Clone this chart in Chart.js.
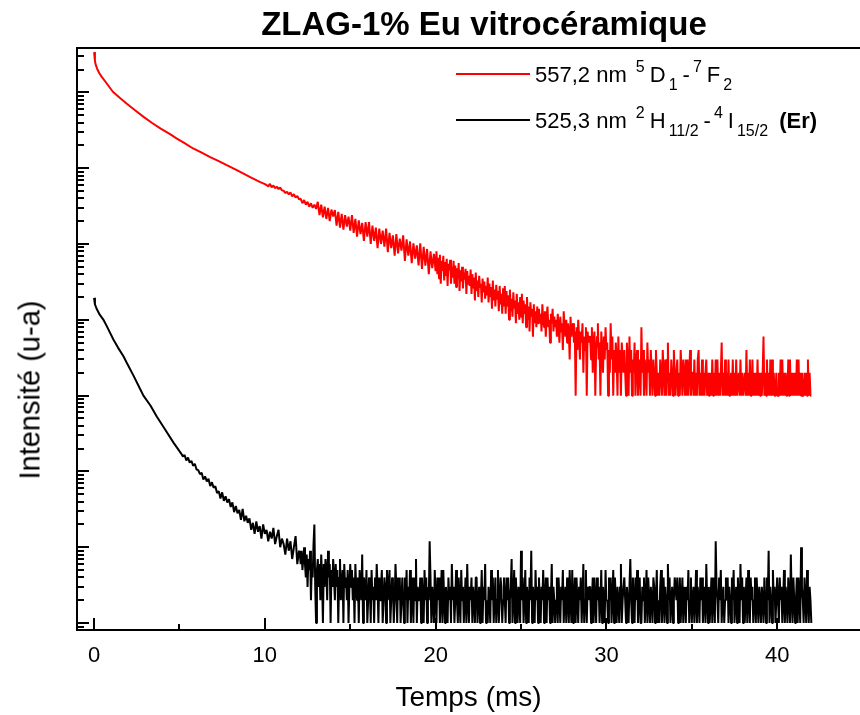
<!DOCTYPE html>
<html>
<head>
<meta charset="utf-8">
<script src="https://cdn.jsdelivr.net/npm/chart.js"></script>
<style>
  body { margin: 0; background: #fff; }
  #wrap { position: relative; width: 860px; height: 715px; overflow: hidden; font-family: "Liberation Sans", Arial, sans-serif; color: #000; }
  #chart { position: absolute; left: 0; top: 0; }
  #title { position: absolute; left: 0; width: 968px; top: 7px; text-align: center; font-weight: bold; font-size: 33px; line-height: 33px; white-space: nowrap; }
  #ytitle { position: absolute; left: 30px; top: 390px; font-size: 29px; line-height: 29px; white-space: nowrap; transform: translate(-50%, -50%) rotate(-90deg); }
  .leg { position: absolute; left: 535px; font-size: 22px; line-height: 22px; white-space: nowrap; }
  .leg sup, .leg sub { font-size: 16px; vertical-align: baseline; position: relative; margin: 0 5px 0 3px; }
  .leg sup { top: -10px; }
  .leg sub { top: 8px; }
  .swatch { position: absolute; left: 456px; width: 74px; height: 0; border-top: 2px solid #000; }
</style>
</head>
<body>
<div id="wrap">
  <canvas id="chart" width="860" height="715"></canvas>
  <div id="title">ZLAG-1% Eu vitrocéramique</div>
  <div id="ytitle">Intensité (u-a)</div>
  <div class="swatch" style="top:73px; border-color:#ff0000;"></div>
  <div class="leg" style="top:64px;">557,2 nm <sup>5</sup>D<sub>1</sub>-<sup>7</sup>F<sub>2</sub></div>
  <div class="swatch" style="top:119px;"></div>
  <div class="leg" style="top:110px;">525,3 nm <sup>2</sup>H<sub>11/2</sub>-<sup>4</sup>I<sub>15/2</sub> <b>(Er)</b></div>
</div>
<script>
// temps en ms, intensité en u-a (échelle log)
const xTicks = [0, 5, 10, 15, 20, 25, 30, 35, 40];
const midStep = 0.1;    // pas de la partie intermédiaire
const tailStep = 0.05;  // pas de la partie bruitée

// ---- 557,2 nm (rouge) ----
const redHeadTime = [0, 0.05, 0.1, 0.2, 0.3, 0.45, 0.7, 1.1, 1.5, 1.9, 2.4, 2.9, 3.4, 3.9, 4.4, 4.85, 5.3, 5.8, 6.3, 6.8, 7.3, 7.8, 8.3, 8.75, 9.2, 9.7, 10.0];
const redHeadValue = [34e6, 26e6, 23e6, 20e6, 18e6, 16e6, 13.5e6, 10.2e6, 8.5e6, 7.15e6, 5.8e6, 4.75e6, 3.95e6, 3.33e6, 2.85e6, 2.46e6, 2.14e6, 1.82e6, 1.6e6, 1.4e6, 1.24e6, 1.09e6, 960e3, 850e3, 750e3, 660e3, 615e3];
// 10,1 -> 20,0 ms
const redMidStart = 10.1;
const redMid = [
  600e3, 575e3, 620e3, 560e3, 590e3, 545e3, 570e3, 530e3, 555e3, 510e3,
  505e3, 470e3, 490e3, 450e3, 480e3, 425e3, 455e3, 410e3, 430e3, 390e3,
  395e3, 345e3, 380e3, 330e3, 360e3, 310e3, 345e3, 300e3, 330e3, 290e3,
  360e3, 240e3, 330e3, 225e3, 310e3, 215e3, 300e3, 200e3, 285e3, 230e3,
  280e3, 175e3, 265e3, 165e3, 250e3, 155e3, 240e3, 170e3, 230e3, 150e3,
  240e3, 140e3, 215e3, 125e3, 205e3, 135e3, 190e3, 110e3, 195e3, 125e3,
  195e3, 100e3, 175e3, 110e3, 165e3, 88e3, 160e3, 100e3, 150e3, 92e3,
  160e3, 78e3, 140e3, 88e3, 130e3, 70e3, 135e3, 75e3, 118e3, 82e3,
  130e3, 60e3, 115e3, 70e3, 108e3, 56e3, 102e3, 64e3, 96e3, 52e3,
  102e3, 47e3, 92e3, 52e3, 86e3, 40e3, 80e3, 48e3, 74e3, 44e3
];
// 20,05 -> 42,0 ms
const redTailStart = 20.05;
const redTail = [
  80e3, 40e3, 66e3, 35e3, 72e3, 30e3, 60e3, 44e3, 70e3, 33e3, 58e3, 38e3, 64e3, 28e3, 55e3, 45e3, 62e3, 30e3, 50e3, 36e3,
  60e3, 30e3, 52e3, 27e3, 48e3, 35e3, 56e3, 24e3, 45e3, 32e3, 50e3, 26e3, 42e3, 34e3, 47e3, 22e3, 44e3, 30e3, 38e3, 28e3,
  46e3, 22e3, 40e3, 26e3, 36e3, 18e3, 42e3, 24e3, 33e3, 20e3, 38e3, 27e3, 30e3, 17e3, 35e3, 23e3, 32e3, 19e3, 28e3, 21e3,
  36e3, 17e3, 30e3, 20e3, 27e3, 14e3, 33e3, 18e3, 25e3, 15e3, 29e3, 19e3, 24e3, 13e3, 28e3, 16e3, 22e3, 12e3, 26e3, 15e3,
  28e3, 12e3, 24e3, 15e3, 21e3, 10e3, 25e3, 13e3, 19e3, 11e3, 23e3, 14e3, 18e3, 9e3, 22e3, 12e3, 17e3, 10e3, 20e3, 11e3,
  22e3, 9e3, 18e3, 12e3, 16e3, 8e3, 20e3, 10e3, 15e3, 7e3, 17e3, 11e3, 14e3, 6e3, 16e3, 9e3, 13e3, 8e3, 15e3, 9e3,
  14e3, 9e3, 12e3, 7e3, 16e3, 10e3, 8e3, 13e3, 6e3, 11e3, 15e3, 8e3, 10e3, 5e3, 12e3, 9e3, 14e3, 7e3, 11e3, 8e3,
  10e3, 6e3, 12e3, 8e3, 5e3, 11e3, 7e3, 9e3, 4e3, 13e3, 8e3, 6e3, 10e3, 5e3, 9e3, 7e3, 3e3, 11e3, 6e3, 8e3,
  9e3, 5e3, 7e3, 1e3, 8e3, 4e3, 10e3, 6e3, 3e3, 7e3, 5e3, 9e3, 2e3, 6e3, 4e3, 8e3, 1e3, 7e3, 5e3, 6e3,
  6e3, 3e3, 8e3, 2e3, 5e3, 7e3, 1e3, 4e3, 6e3, 9e3, 3e3, 5e3, 1e3, 7e3, 4e3, 2e3, 6e3, 3e3, 8e3, 4e3,
  5e3, 1e3, 4e3, 2e3, 9e3, 3e3, 6e3, 1e3, 4e3, 2e3, 5e3, 3e3, 1e3, 6e3, 2e3, 4e3, 1e3, 5e3, 3e3, 2e3,
  4e3, 2e3, 1e3, 5e3, 3e3, 1e3, 6e3, 2e3, 4e3, 1e3, 3e3, 2e3, 5e3, 1e3, 3e3, 4e3, 1e3, 2e3, 3e3, 1e3,
  8e3, 2e3, 4e3, 1e3, 3e3, 2e3, 1e3, 5e3, 2e3, 3e3, 1e3, 4e3, 2e3, 1e3, 3e3, 2e3, 1e3, 4e3, 2e3, 1e3,
  2e3, 1e3, 3e3, 2e3, 1e3, 4e3, 2e3, 1e3, 3e3, 1e3, 3e3, 5e3, 1e3, 2e3, 1e3, 3e3, 2e3, 1e3, 4e3, 2e3,
  1e3, 2e3, 3e3, 1e3, 2e3, 1e3, 4e3, 2e3, 1e3, 3e3, 2e3, 1e3, 3e3, 1e3, 3e3, 1e3, 2e3, 4e3, 1e3, 2e3,
  2e3, 1e3, 3e3, 1e3, 2e3, 1e3, 3e3, 4e3, 1e3, 2e3, 1e3, 3e3, 1e3, 2e3, 1e3, 2e3, 3e3, 1e3, 2e3, 1e3,
  1e3, 2e3, 1e3, 3e3, 1e3, 2e3, 1e3, 3e3, 1e3, 3e3, 1e3, 2e3, 1e3, 2e3, 5e3, 1e3, 2e3, 1e3, 3e3, 1e3,
  2e3, 1e3, 3e3, 1e3, 1e3, 2e3, 1e3, 3e3, 1e3, 2e3, 1e3, 3e3, 1e3, 1e3, 2e3, 1e3, 3e3, 1e3, 2e3, 1e3,
  1e3, 2e3, 1e3, 4e3, 1e3, 2e3, 1e3, 3e3, 1e3, 1e3, 3e3, 1e3, 2e3, 1e3, 2e3, 1e3, 3e3, 1e3, 2e3, 1e3,
  2e3, 1e3, 2e3, 6e3, 1e3, 2e3, 1e3, 3e3, 1e3, 2e3, 1e3, 3e3, 1e3, 3e3, 1e3, 2e3, 1e3, 1e3, 2e3, 1e3,
  1e3, 2e3, 1e3, 3e3, 1e3, 3e3, 1e3, 2e3, 1e3, 2e3, 1e3, 1e3, 3e3, 1e3, 3e3, 1e3, 2e3, 1e3, 2e3, 1e3,
  2e3, 1e3, 3e3, 1e3, 3e3, 1e3, 2e3, 1e3, 2e3, 1e3, 1e3, 2e3, 1e3, 2e3, 1e3, 3e3, 1e3, 2e3, 1e3, 1e3
];

// ---- 525,3 nm (noir, Er) ----
const blackHeadTime = [0, 0.05, 0.15, 0.3, 0.55, 0.75, 1.13, 1.4, 1.72, 1.92, 2.3, 2.69, 2.89, 3.3, 3.67, 4.15, 4.65, 5.0];
const blackHeadValue = [19500, 16000, 14000, 12000, 10000, 8200, 5500, 4300, 3300, 2700, 1850, 1230, 1000, 740, 530, 360, 240, 185];
// 5,1 -> 12,0 ms
const blackMidStart = 5.1;
const blackMid = [
  172, 158, 165, 140, 152, 131, 138, 119, 126, 106,
  104, 92, 96, 78, 86, 74, 80, 64, 72, 61,
  64, 52, 55, 44, 53, 41, 47, 39, 43, 34,
  39, 29, 35, 28, 31, 23, 32, 22, 26, 21,
  24, 17, 21, 15, 22, 16, 19, 13, 20, 15,
  17, 12, 16, 13, 18, 11, 14, 17, 10, 13,
  11, 8, 13, 9, 12, 7, 10, 14, 6, 9
];
// 12,05 -> 42,0 ms
const blackTailStart = 12.05;
const blackTail = [
  8, 6, 9, 5, 7, 10, 6, 4, 8, 3, 7, 5, 9, 2, 6, 4, 11, 20, 3, 1,
  5, 7, 3, 6, 2, 8, 4, 1, 6, 3, 7, 5, 2, 9, 4, 6, 1, 5, 3, 7,
  4, 2, 6, 3, 5, 1, 4, 7, 2, 3, 5, 1, 6, 3, 4, 2, 5, 1, 3, 6,
  3, 5, 2, 4, 1, 6, 3, 2, 4, 1, 5, 3, 2, 8, 1, 4, 3, 2, 5, 1,
  2, 4, 3, 1, 5, 2, 3, 1, 4, 2, 6, 3, 1, 4, 2, 3, 5, 1, 2, 4,
  3, 1, 5, 2, 3, 5, 1, 2, 4, 3, 1, 2, 6, 3, 1, 4, 2, 4, 1, 2,
  4, 2, 1, 4, 2, 5, 1, 3, 2, 5, 1, 2, 4, 1, 4, 2, 7, 1, 3, 2,
  2, 4, 1, 4, 2, 1, 5, 2, 4, 1, 3, 2, 12, 4, 1, 3, 2, 1, 5, 2,
  1, 4, 2, 4, 1, 2, 5, 1, 5, 2, 1, 3, 2, 1, 4, 2, 3, 1, 6, 2,
  3, 1, 2, 5, 2, 1, 4, 2, 1, 5, 2, 3, 1, 2, 4, 1, 6, 2, 1, 3,
  2, 4, 1, 3, 2, 1, 4, 4, 1, 2, 3, 1, 2, 5, 1, 3, 2, 6, 1, 2,
  1, 3, 2, 1, 5, 2, 4, 1, 2, 4, 1, 2, 5, 1, 2, 4, 3, 1, 2, 4,
  2, 1, 4, 2, 4, 1, 2, 3, 7, 1, 2, 5, 1, 4, 2, 1, 3, 2, 1, 9,
  2, 4, 1, 2, 5, 1, 3, 2, 1, 4, 2, 9, 1, 3, 2, 1, 5, 2, 3, 1,
  4, 2, 1, 3, 2, 5, 1, 2, 4, 1, 4, 2, 3, 1, 2, 6, 1, 3, 2, 1,
  2, 4, 1, 4, 2, 1, 3, 2, 5, 1, 2, 3, 1, 4, 2, 1, 5, 2, 1, 5,
  1, 2, 4, 1, 4, 2, 1, 3, 2, 4, 1, 2, 6, 1, 2, 5, 1, 3, 2, 3,
  3, 1, 2, 4, 1, 4, 2, 1, 4, 2, 3, 1, 2, 5, 1, 3, 2, 1, 5, 2,
  2, 1, 4, 2, 4, 1, 2, 5, 1, 4, 2, 1, 3, 2, 1, 3, 6, 1, 2, 3,
  4, 2, 1, 3, 2, 1, 3, 7, 2, 1, 4, 2, 1, 4, 2, 5, 1, 2, 4, 1,
  1, 3, 2, 4, 1, 2, 5, 1, 4, 2, 1, 3, 2, 1, 4, 3, 1, 2, 5, 1,
  2, 1, 3, 5, 1, 2, 4, 1, 3, 2, 1, 6, 2, 4, 1, 2, 3, 1, 2, 4,
  3, 2, 4, 1, 2, 4, 1, 2, 4, 1, 3, 2, 1, 3, 2, 5, 1, 2, 4, 1,
  2, 3, 1, 2, 5, 1, 3, 2, 1, 4, 2, 4, 1, 2, 3, 1, 6, 2, 1, 3,
  1, 2, 4, 1, 4, 2, 1, 12, 3, 2, 1, 4, 2, 5, 1, 2, 3, 1, 2, 4,
  2, 4, 1, 3, 2, 1, 4, 2, 5, 1, 2, 3, 1, 4, 2, 1, 6, 2, 4, 1,
  3, 1, 2, 4, 1, 5, 2, 1, 4, 2, 3, 1, 2, 4, 1, 4, 2, 1, 3, 2,
  1, 3, 2, 1, 4, 2, 1, 4, 2, 9, 1, 3, 2, 1, 5, 2, 3, 1, 2, 4,
  2, 1, 4, 2, 3, 1, 2, 5, 1, 3, 2, 1, 4, 2, 1, 8, 2, 1, 4, 2,
  1, 2, 4, 1, 4, 2, 1, 10, 3, 2, 1, 4, 2, 1, 5, 2, 1, 3, 2, 1
];

function seriesPoints(headTime, headValue, midStart, mid, tailStart, tail) {
    const pts = headTime.map((t, i) => ({ x: t, y: headValue[i] }));
    const m0 = Math.round(midStart / midStep);
    mid.forEach((v, i) => pts.push({ x: (m0 + i) * midStep, y: v }));
    const t0 = Math.round(tailStart / tailStep);
    tail.forEach((v, i) => pts.push({ x: (t0 + i) * tailStep, y: v }));
    return pts;
}

// cadre + graduations vers l'intérieur, comme sous Origin
const frameTicks = {
    id: 'frameTicks',
    afterDatasetsDraw(chart) {
        const { ctx, chartArea: a, scales: { x, y } } = chart;
        ctx.save();
        ctx.strokeStyle = '#000';
        ctx.lineWidth = 2;
        ctx.beginPath();
        ctx.moveTo(a.left, a.top); ctx.lineTo(a.right, a.top);
        ctx.moveTo(a.left, a.top - 1); ctx.lineTo(a.left, a.bottom + 1);
        ctx.moveTo(a.left, a.bottom); ctx.lineTo(a.right, a.bottom);
        xTicks.forEach(v => {
            const px = Math.round(x.getPixelForValue(v));
            const len = v % 10 === 0 ? 12 : 6;
            ctx.moveTo(px, a.bottom); ctx.lineTo(px, a.bottom - len);
        });
        for (let e = -1; e <= 8; e++) {
            for (let k = 1; k <= 9; k++) {
                const v = k * Math.pow(10, e);
                if (v < y.min || v > y.max) continue;
                const py = Math.round(y.getPixelForValue(v));
                ctx.moveTo(a.left, py); ctx.lineTo(a.left + (k === 1 ? 12 : 7), py);
            }
        }
        ctx.stroke();
        ctx.restore();
    }
};

const fontFamily = '"Liberation Sans", Arial, sans-serif';

new Chart(document.getElementById('chart'), {
    type: 'scatter',
    data: {
        datasets: [
            {
                label: '525,3 nm',
                data: seriesPoints(blackHeadTime, blackHeadValue, blackMidStart, blackMid, blackTailStart, blackTail),
                showLine: true,
                borderColor: '#000000',
                borderWidth: 2,
                borderJoinStyle: 'bevel',
                pointRadius: 0,
                tension: 0
            },
            {
                label: '557,2 nm',
                data: seriesPoints(redHeadTime, redHeadValue, redMidStart, redMid, redTailStart, redTail),
                showLine: true,
                borderColor: '#ff0000',
                borderWidth: 2,
                borderJoinStyle: 'bevel',
                pointRadius: 0,
                tension: 0
            }
        ]
    },
    options: {
        responsive: false,
        animation: false,
        events: [],
        layout: { padding: { top: 48, right: 0, left: 0, bottom: 0 } },
        plugins: {
            legend: { display: false },
            title: { display: false },
            tooltip: { enabled: false }
        },
        scales: {
            x: {
                type: 'linear',
                min: -1,
                max: 44.85,
                afterBuildTicks: s => { s.ticks = xTicks.map(v => ({ value: v })); },
                afterFit: s => { s.height = 85; },
                grid: { display: false, drawTicks: false },
                border: { display: false },
                ticks: {
                    color: '#000',
                    font: { family: fontFamily, size: 22 },
                    padding: 13,
                    maxRotation: 0,
                    autoSkip: false,
                    callback: v => (v % 10 === 0 ? String(v) : '')
                },
                title: {
                    display: true,
                    text: 'Temps (ms)',
                    color: '#000',
                    font: { family: fontFamily, size: 28 },
                    padding: { top: 0, bottom: 0 }
                }
            },
            y: {
                type: 'logarithmic',
                min: 0.81,
                max: 3.85e7,
                afterFit: s => { s.width = 77; },
                grid: { display: false, drawTicks: false },
                border: { display: false },
                ticks: { display: false }
            }
        }
    },
    plugins: [frameTicks]
});
</script>
</body>
</html>
